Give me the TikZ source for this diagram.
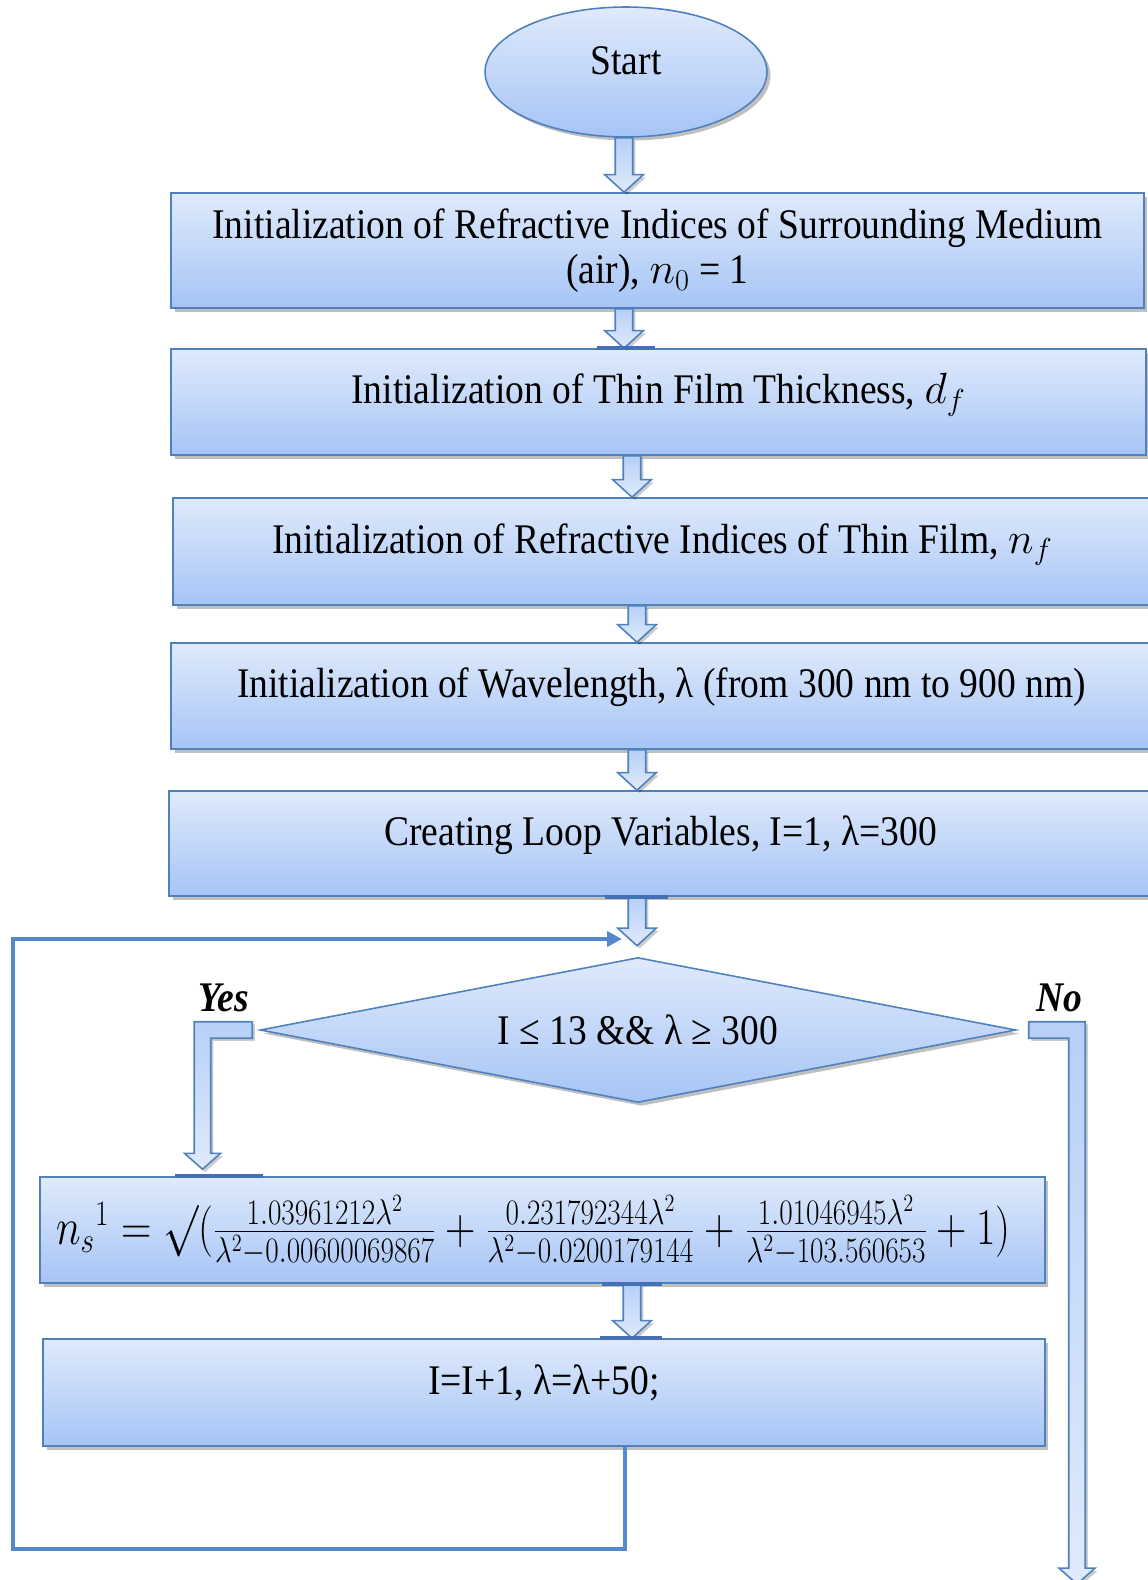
\documentclass[tikz,border=0pt]{standalone}
\usepackage{fontspec}
\setmainfont{Liberation Serif}[FakeStretch=0.89]
\usetikzlibrary{positioning,shapes.geometric,shadows,calc,arrows.meta}

\definecolor{edgeblue}{RGB}{79,129,189}
\definecolor{lineblue}{RGB}{84,137,205}
\definecolor{jointblue}{RGB}{68,112,180}
\definecolor{filltop}{RGB}{223,234,251}
\definecolor{fillbot}{RGB}{166,196,246}

\tikzset{
  boxfill/.style={draw=edgeblue, line width=0.9pt, top color=filltop, bottom color=fillbot,
    drop shadow={shadow xshift=2pt, shadow yshift=-2pt, opacity=0.25, fill=black}},
  flowbox/.style={rectangle, boxfill, inner sep=0pt, align=center, font=\fontsize{24}{26}\selectfont},
  onerow/.style={text height=16pt, text depth=14pt},
  startshape/.style={ellipse, boxfill, inner sep=0pt, minimum width=5.64cm, minimum height=2.6cm,
    text height=16pt, text depth=13pt, font=\fontsize{24}{26}\selectfont},
  condshape/.style={diamond, boxfill, inner sep=0pt, aspect=5.2, minimum width=15.12cm, minimum height=2.9cm,
    font=\fontsize{24}{26}\selectfont},
  blockarrow/.style={draw=edgeblue, line width=0.9pt, top color=fillbot!70!filltop, bottom color=filltop,
    drop shadow={shadow xshift=1.5pt, shadow yshift=-1.5pt, opacity=0.2, fill=black}},
  loopline/.style={draw=lineblue, line width=2.2pt, -{Triangle[length=8.5pt,width=8.5pt]}},
  joint/.style={draw=jointblue, line width=2.4pt},
  lbl/.style={font=\fontsize{24}{26}\selectfont\bfseries\itshape}
}

% small straight arrow: #1 tail, #2 tip
\newcommand{\blockdown}[2]{%
  \path[blockarrow] let \p1=(#1), \p2=(#2) in
    ({\x1-5pt},\y1) -- ({\x1+5pt},\y1) -- ({\x1+5pt},{\y2+10pt}) -- ({\x1+11pt},{\y2+10pt})
    -- (\x1,\y2) -- ({\x1-11pt},{\y2+10pt}) -- ({\x1-5pt},{\y2+10pt}) -- cycle;}
% bent arrow: #1 start, #2 shaft axis, #3 tip, #4 side (1 = shaft left of start, -1 = right)
\newcommand{\elbowdown}[4]{%
  \path[blockarrow] let \p1=(#1), \p2=(#2), \p3=(#3) in
    (\x1,{\y1+4.7pt}) -- ({\x2-#4*4.7pt},{\y1+4.7pt}) -- ({\x2-#4*4.7pt},{\y3+9pt})
    -- ({\x2-#4*10.2pt},{\y3+9pt}) -- (\x2,\y3) -- ({\x2+#4*10.2pt},{\y3+9pt})
    -- ({\x2+#4*4.7pt},{\y3+9pt}) -- ({\x2+#4*4.7pt},{\y1-4.7pt}) -- (\x1,{\y1-4.7pt}) -- cycle;}
% one term of the dispersion formula
\newcommand{\sellterm}[2]{\frac{#1\lambda^2}{\lambda^2-#2}}

\begin{document}
\begin{tikzpicture}[x=0.02cm,y=-0.02cm]
\useasboundingbox (0,0) rectangle (1148,1580);

% axes of the arrows
\coordinate (axA) at (624,0);
\coordinate (axB) at (632,0);
\coordinate (axC) at (637,0);
\coordinate (yesx) at (202.5,0);
\coordinate (noend) at (1077,1584);

\node[startshape] (start) at (626,72) {Start};
\node[flowbox, minimum width=19.46cm, minimum height=2.3cm] (surr) at (657.5,250.5)
  {Initialization of Refractive Indices of Surrounding Medium\\(air), $n_0$ = 1};
\node[flowbox, onerow, minimum width=19.5cm, minimum height=2.12cm] (thick) at (658.5,402)
  {Initialization of Thin Film Thickness, $d_f$};
\node[flowbox, onerow, minimum width=19.58cm, minimum height=2.14cm] (film) at (662.5,551.5)
  {Initialization of Refractive Indices of Thin Film, $n_f$};
\node[flowbox, onerow, minimum width=19.62cm, minimum height=2.12cm] (wave) at (661.5,696)
  {Initialization of Wavelength, λ (from 300 nm to 900 nm)};
\node[flowbox, onerow, minimum width=19.66cm, minimum height=2.1cm] (loopvar) at (660.5,843.5)
  {Creating Loop Variables, I=1, λ=300};
\node[condshape] (cond) at (638,1030) {I ≤ 13 \&\& λ ≥ 300};
\node[flowbox, minimum width=20.1cm, minimum height=2.12cm] (nsform) at (542.5,1230)
  {\resizebox*{19.1cm}{1.4cm}{$n_s{}^1 = \surd(\sellterm{1.03961212}{0.00600069867}
   + \sellterm{0.231792344}{0.0200179144} + \sellterm{1.01046945}{103.560653} + 1)$}\hspace{0.36cm}};
\node[flowbox, onerow, minimum width=20.04cm, minimum height=2.14cm] (update) at (544,1392.5)
  {I=I+1, λ=λ+50;};

\node[lbl] (yes) at (224,998) {Yes};
\node[lbl] (no) at (1059,998) {No};

% arrows
\blockdown{start.south -| axA}{surr.north -| axA}
\blockdown{surr.south -| axA}{thick.north -| axA}
\blockdown{thick.south -| axB}{film.north -| axB}
\blockdown{film.south -| axC}{wave.north -| axC}
\blockdown{wave.south -| axC}{loopvar.north -| axC}
\blockdown{loopvar.south -| axC}{$(cond.north)+(0,-11)$}
\blockdown{nsform.south -| axB}{update.north -| axB}
\elbowdown{$(cond.west)+(-7,0)$}{yesx}{$(nsform.north -| yesx)+(0,-7)$}{1}
\elbowdown{$(cond.east)+(12,0)$}{noend}{noend}{-1}

% joints
\draw[joint] ($(thick.north -| axA)+(-27,0)$) -- ++(58,0);
\draw[joint] ($(loopvar.south -| axC)+(-32,0)$) -- ++(63,0);
\draw[joint] ($(nsform.north -| yesx)+(-28,0)$) -- ++(88,0);
\draw[joint] ($(nsform.south -| axB)+(-30,0)$) -- ++(60,0);
\draw[joint] ($(update.north -| axB)+(-32,0)$) -- ++(62,0);

% loop back
\coordinate (lpx) at (625,0);
\coordinate (lpcorner) at (13,1549);
\coordinate (merge) at (622,939);
\draw[loopline] (update.south -| lpx) |- (lpcorner) |- (merge);
\end{tikzpicture}
\end{document}
